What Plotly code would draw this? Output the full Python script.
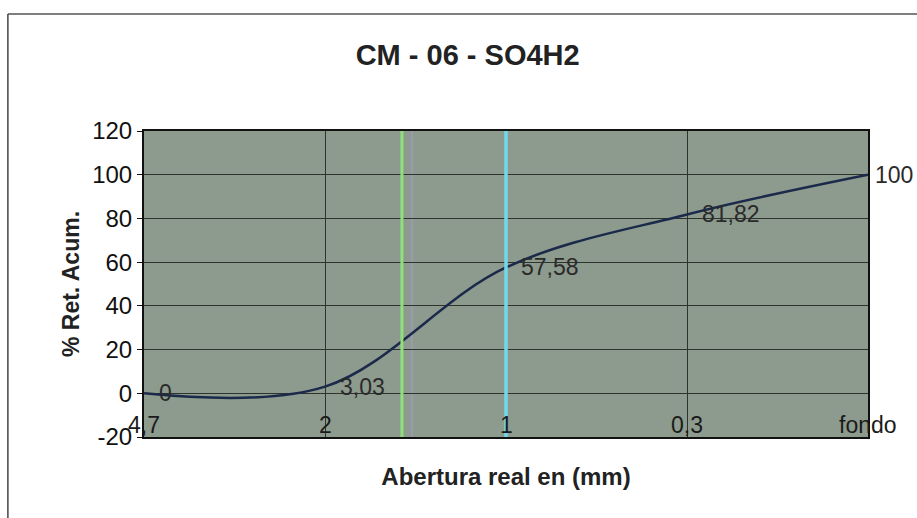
import plotly.graph_objects as go

categories = ["4,7", "2", "1", "0,3", "fondo"]
values = [0, 3.03, 57.58, 81.82, 100]
labels = ["0", "3,03", "57,58", "81,82", "100"]
y_tick_vals = [-20, 0, 20, 40, 60, 80, 100, 120]
y_tick_text = ["-20", "0", "20", "40", "60", "80", "100", "120"]
green_line_pos = 1.425
cyan_line_pos = 2.0

positions = list(range(len(categories)))

fig = go.Figure()
fig.add_trace(go.Scatter(
    x=positions, y=values, mode="lines",
    line=dict(color="#1b2a4a", width=2.5, shape="spline", smoothing=1.0),
    cliponaxis=False, showlegend=False,
))

# data labels
for i, (p, v, t) in enumerate(zip(positions, values, labels)):
    fig.add_annotation(x=p, y=v, text=t, xanchor="left", yanchor="middle",
                       xshift=5 if i == len(positions) - 1 else 13, showarrow=False,
                       font=dict(family="Arial", size=23, color="#2a2a2a"))

# x category labels sitting just inside the bottom of the plot
for p, c in zip(positions, categories):
    fig.add_annotation(x=p, y=-20, text=c, xanchor="center", yanchor="bottom",
                       yshift=-3, showarrow=False,
                       font=dict(family="Arial", size=23, color="#1a1a1a"))

fig.add_shape(type="line", xref="x", yref="paper", x0=green_line_pos, x1=green_line_pos,
              y0=0, y1=1, line=dict(color="#8fe07a", width=3), layer="above")
fig.add_shape(type="line", xref="x", yref="paper", x0=green_line_pos + 0.055, x1=green_line_pos + 0.055,
              y0=0, y1=1, line=dict(color="#9a9ab4", width=2), layer="below")
fig.add_shape(type="line", xref="x", yref="paper", x0=cyan_line_pos, x1=cyan_line_pos,
              y0=0, y1=1, line=dict(color="#6fd8ec", width=3.5), layer="above")

# outer chart frame (left and top)
fig.add_shape(type="line", xref="paper", yref="paper", x0=-0.188, x1=1.07, y0=1.382, y1=1.382,
              line=dict(color="#555", width=1.5))
fig.add_shape(type="line", xref="paper", yref="paper", x0=-0.188, x1=-0.188, y0=1.382, y1=-0.27,
              line=dict(color="#444", width=1.5))

fig.update_layout(
    width=917, height=518,
    margin=dict(l=144, r=49, t=131, b=81),
    paper_bgcolor="white",
    plot_bgcolor="#8d9a8e",
    font=dict(family="Arial", size=23, color="#111"),
    title=dict(text="<b>CM - 06 - SO4H2</b>", x=0.51, xanchor="center",
               y=1 - 55 / 518, yref="container", yanchor="middle",
               font=dict(family="Arial", size=29, color="#222")),
    xaxis=dict(
        range=[0, 4], tickvals=positions,
        showgrid=True, gridcolor="#2e332e", gridwidth=1,
        ticks="", showticklabels=False,
        showline=True, linecolor="#111", linewidth=2, mirror=True,
        title=dict(text="<b>Abertura real en (mm)</b>", standoff=30,
                   font=dict(family="Arial", size=24, color="#222")),
        zeroline=False,
    ),
    yaxis=dict(
        range=[-20, 120], tickvals=y_tick_vals, ticktext=y_tick_text,
        showgrid=True, gridcolor="#2e332e", gridwidth=1,
        ticks="outside", ticklen=5, tickcolor="#111",
        tickfont=dict(family="Arial", size=24, color="#111"),
        showline=True, linecolor="#111", linewidth=2, mirror=True,
        zeroline=False,
        title=dict(text="<b>% Ret. Acum.</b>", standoff=6,
                   font=dict(family="Arial", size=23, color="#222")),
    ),
)

fig.write_html("out.html")
